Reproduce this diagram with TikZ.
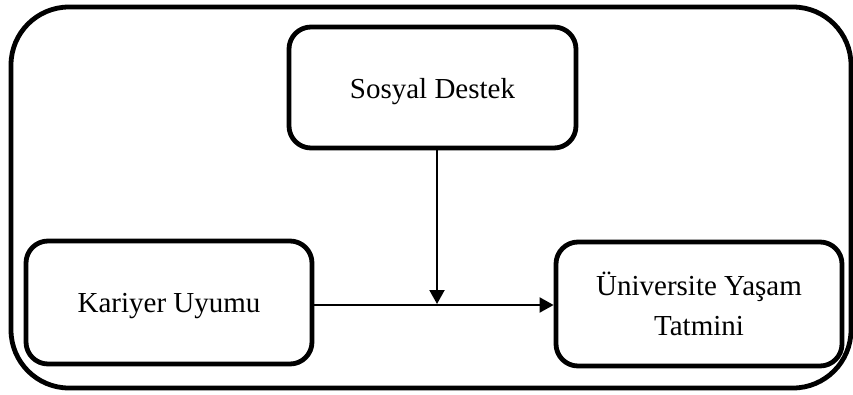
\documentclass[tikz,border=0pt]{standalone}
\usepackage{fontspec}
\setmainfont{Liberation Serif}
\usetikzlibrary{arrows.meta,calc}
\begin{document}
\begin{tikzpicture}[x=1pt,y=-1pt,
  box/.style={draw, line width=4.8pt, rounded corners=22pt, align=center, inner sep=0pt,
    font=\fontsize{29}{40}\selectfont},
  conn/.style={line width=2pt, -{Triangle[length=14pt,width=15pt]}}]
\useasboundingbox (0,0) rectangle (853,394);
\draw[line width=4.8pt, rounded corners=58pt] (11,7) rectangle (851,388);
\node[box, minimum width=287pt, minimum height=121pt] (sd) at (432.5,87.5) {};
\node[font=\fontsize{29}{40}\selectfont] (sdt) at (432.5,92) {Sosyal Destek};
\node[box, minimum width=286pt, minimum height=123pt] (ku) at (169,302.5) {};
\node[font=\fontsize{29}{40}\selectfont] (kut) at (169,306) {Kariyer Uyumu};
\node[box, minimum width=286pt, minimum height=124pt] (uy) at (699,304) {Üniversite Yaşam\\Tatmini};
\coordinate (top) at (437,148);
\coordinate (mid) at (437,305);
\draw[conn] (ku.east |- mid) -- (uy.west |- mid);
\draw[conn] (sd.south -| top) -- ($(mid)+(0,-1)$);
\end{tikzpicture}
\end{document}
